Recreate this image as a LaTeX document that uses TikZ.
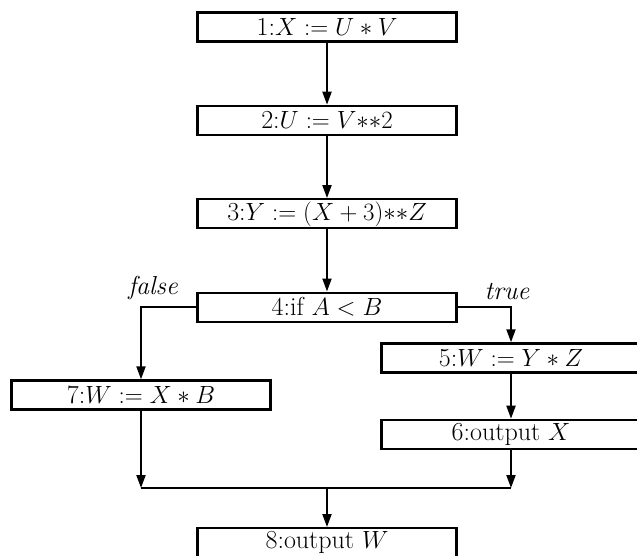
\documentclass[tikz,border=0pt]{standalone}
\usepackage{amsmath,amssymb}
\usepackage{tikz}
\usetikzlibrary{arrows.meta, positioning}
\tikzset{
  stmt/.style={rectangle, draw=black, line width=2.4pt, fill=white,
    minimum width=259pt, minimum height=29pt, inner sep=0pt,
    font=\fontsize{26}{31}\selectfont},
  branchlbl/.style={font=\fontsize{26}{31}\selectfont\itshape, inner sep=2pt},
  flow/.style={-{Triangle[length=13pt, width=9pt]}, line width=2pt},
  plainline/.style={line width=2pt}
}

\begin{document}
\begin{tikzpicture}[x=1pt, y=-1pt, node distance=62pt]
  \useasboundingbox (0,0) rectangle (637,556);

  \node[stmt] (s1) at (327,27) {1:$X := U * V$};
  \node[stmt, below=of s1] (s2) {2:$U := V{*}{*}2$};
  \node[stmt, below=of s2] (s3) {3:$Y := (X+3){*}{*}Z$};
  \node[stmt, below=of s3] (s4) {4:if $A < B$};
  \node[stmt] (s5) at (511,358) {5:$W := Y * Z$};
  \node[stmt, below=45pt of s5] (s6) {6:output $X$};
  \node[stmt] (s7) at (141,395) {7:$W := X * B$};
  \coordinate (join) at (327,488);
  \node[stmt, below=39pt of join] (s8) {8:output $W$};

  \draw[flow] (s1) -- (s2);
  \draw[flow] (s2) -- (s3);
  \draw[flow] (s3) -- (s4);
  % branches
  \draw[flow] (s4.west) -| node[pos=0.5, branchlbl, above, xshift=12pt, yshift=4pt] {false} (s7.north);
  \draw[flow] (s4.east) -| node[pos=0.5, branchlbl, above, xshift=-4pt, yshift=4pt] {true} (s5.north);
  \draw[flow] (s5) -- (s6);
  % merge
  \draw[flow] (s7.south) -- (s7.south |- join);
  \draw[flow] (s6.south) -- (s6.south |- join);
  \draw[plainline] (s7.south |- join) -- (s6.south |- join);
  \draw[flow] (join) -- (s8);
\end{tikzpicture}
\end{document}
